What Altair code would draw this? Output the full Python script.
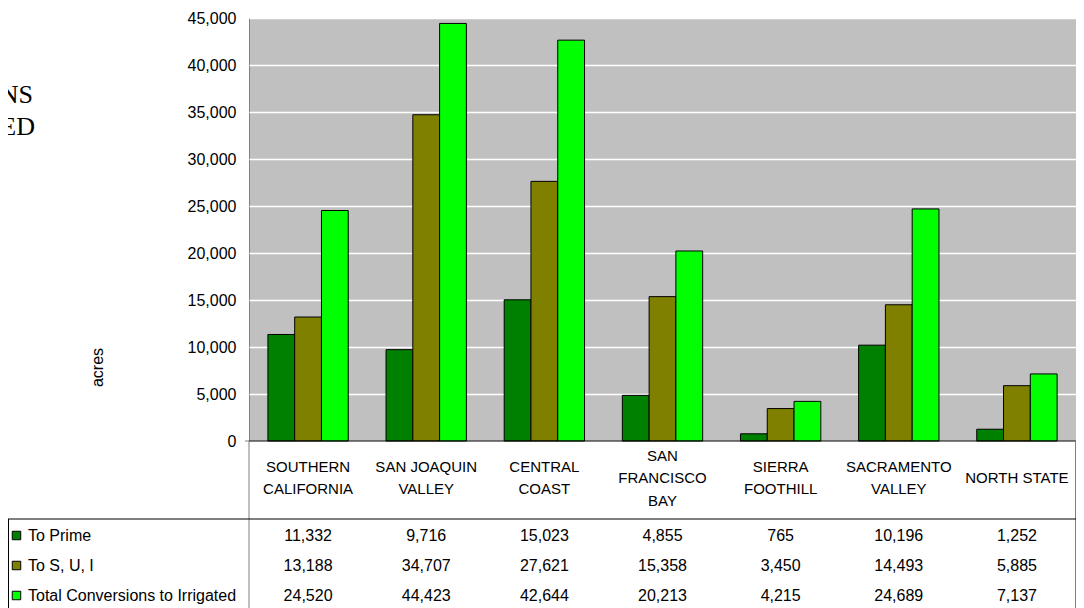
import altair as alt
import pandas as pd

# ---- data ----
regions = ["SOUTHERN CALIFORNIA", "SAN JOAQUIN VALLEY", "CENTRAL COAST",
           "SAN FRANCISCO BAY", "SIERRA FOOTHILL", "SACRAMENTO VALLEY", "NORTH STATE"]
region_labels = ["SOUTHERN\nCALIFORNIA", "SAN JOAQUIN\nVALLEY", "CENTRAL\nCOAST",
                 "SAN\nFRANCISCO\nBAY", "SIERRA\nFOOTHILL", "SACRAMENTO\nVALLEY", "NORTH STATE"]
series = ["To Prime", "To S, U, I", "Total Conversions to Irrigated"]
colors = ["#008000", "#808000", "#00FF00"]
to_prime = [11332, 9716, 15023, 4855, 765, 10196, 1252]
to_sui = [13188, 34707, 27621, 15358, 3450, 14493, 5885]
total_irrigated = [24520, 44423, 42644, 20213, 4215, 24689, 7137]
y_ticks = [0, 5000, 10000, 15000, 20000, 25000, 30000, 35000, 40000, 45000]
y_title = "acres"
title_lines = ["CONVERSIONS", "IRRIGATED"]

values_by_series = [to_prime, to_sui, total_irrigated]

FONT = "Liberation Sans"
W, H = 827, 423
BOTTOM = 600 - 10 - H  # total svg height 600

rows = []
for s, vals in zip(series, values_by_series):
    for r, v in zip(regions, vals):
        rows.append({"region": r, "series": s, "value": v})
df = pd.DataFrame(rows)
df_labels = pd.DataFrame({"region": regions, "label": region_labels,
                          "nlines": [l.count("\n") + 1 for l in region_labels]})
one = pd.DataFrame({"a": [0]})

X = alt.X("region:N", sort=regions,
          scale=alt.Scale(paddingInner=0.32, paddingOuter=0.16), axis=None)

bars = alt.Chart(df).mark_bar(stroke="black", strokeWidth=1).encode(
    x=X,
    xOffset=alt.XOffset("series:N", sort=series),
    y=alt.Y("value:Q",
            scale=alt.Scale(domain=[0, 45000], nice=False, zero=True),
            axis=alt.Axis(values=y_ticks, format=",.0f", grid=True, gridColor="white",
                          gridOpacity=1, gridWidth=1.3, domain=False, ticks=False,
                          labelFontSize=16, labelPadding=13, labelColor="black",
                          labelFont=FONT, title=y_title, titleFont=FONT,
                          titleFontSize=16, titleFontWeight="normal", titleColor="black",
                          titleAngle=270, titleX=-152, titleY=349,
                          titleAlign="center", titleBaseline="middle")),
    color=alt.Color("series:N", scale=alt.Scale(domain=series, range=colors), legend=None),
)

layers = [bars]

# category header (block vertically centred in the header row)
for n in sorted(df_labels["nlines"].unique()):
    sub = df_labels[df_labels["nlines"] == n]
    layers.append(alt.Chart(sub).mark_text(
        lineBreak="\n", lineHeight=22.5, fontSize=15, font=FONT, baseline="middle",
        align="center", color="black").encode(
        x=X, y=alt.value(460 - (n - 1) * 11.25), text="label:N"))

for i, (s, vals) in enumerate(zip(series, values_by_series)):
    dfi = pd.DataFrame({"region": regions, "value": vals})
    layers.append(alt.Chart(dfi).mark_text(fontSize=16, font=FONT, baseline="alphabetic",
                                           align="center", color="black").encode(
        x=X, y=alt.value(523 + 30 * i), text=alt.Text("value:Q", format=",")))
    dfs = pd.DataFrame({"series": [s]})
    layers.append(alt.Chart(dfs).mark_text(fontSize=16, font=FONT, baseline="alphabetic",
                                           align="left", color="black").encode(
        x=alt.value(-221), y=alt.value(523 + 30 * i), text="series:N"))
    layers.append(alt.Chart(dfs).mark_square(size=72, stroke="black", strokeWidth=1,
                                             opacity=1, filled=True).encode(
        x=alt.value(-232.5), y=alt.value(517.5 + 30 * i), fill=alt.value(colors[i])))


def rule(x, x2, y, y2, color):
    enc = dict(x=alt.value(x), y=alt.value(y))
    if x2 is not None:
        enc["x2"] = alt.value(x2)
    if y2 is not None:
        enc["y2"] = alt.value(y2)
    return alt.Chart(one).mark_rule(color=color, strokeWidth=1).encode(**enc)


layers += [
    rule(0, W, H, None, "black"),            # x axis line
    rule(-4, 0, H, None, "#808080"),          # small tick at zero
    rule(0, None, H, 610, "#808080"),         # vertical line under y axis
    rule(W - 0.5, None, H, 610, "#808080"),   # right table border
    rule(-241, W, 501, None, "black"),        # table header separator
    rule(-240.5, None, 501, 610, "black"),    # table left border
]

# clipped slide title at the far left
for i, t in enumerate(title_lines):
    layers.append(alt.Chart(pd.DataFrame({"t": [t]})).mark_text(
        font="Liberation Serif", fontSize=26, align="right", baseline="alphabetic",
        color="black").encode(x=alt.value(-216 + i * 2), y=alt.value(85 + 32 * i), text="t:N"))

chart = alt.layer(*layers).properties(
    width=W, height=H,
    autosize=alt.AutoSizeParams(type="none"),
    padding={"left": 241, "top": 10, "right": 0, "bottom": BOTTOM},
).configure_view(fill="#C0C0C0", stroke="#808080", strokeWidth=1)

chart.save("out.html", embed_options={"renderer": "svg", "actions": False})
